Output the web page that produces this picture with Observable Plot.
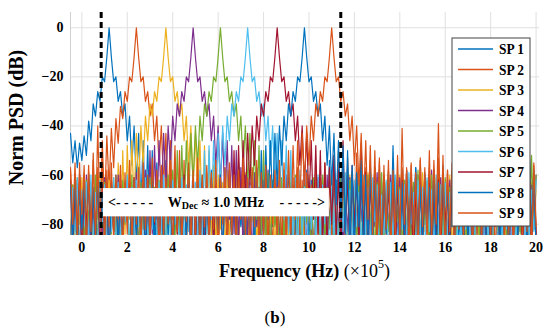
<!DOCTYPE html>
<html>
<head>
<meta charset="utf-8">
<script src="https://cdn.jsdelivr.net/npm/d3@7"></script>
<script src="https://cdn.jsdelivr.net/npm/@observablehq/plot@0.6"></script>
<style>
  html, body { margin: 0; padding: 0; background: #fff; }
  #wrap { width: 550px; }
  #cap { text-align: center; font-family: "Liberation Serif", serif; font-size: 17px; line-height: 20px; margin-top: 18px; color: #000; }
</style>
</head>
<body>
<div id="wrap"><div id="chart"></div><div id="cap">(<b>b</b>)</div></div>
<script>
// ---- data (frequency axis in units of 10^5 Hz, PSD in dB) ----
const freqStart = -0.5;
const freqStep = 0.1;
const seriesNames = ["SP 1","SP 2","SP 3","SP 4","SP 5","SP 6","SP 7","SP 8","SP 9"];
const seriesColors = ["#0072BD","#D95319","#EDB120","#7E2F8E","#77AC30","#4DBEEE","#A2142F","#0072BD","#D95319"];
const xTicks = [0,2,4,6,8,10,12,14,16,18,20];
const yTicks = [0,-20,-40,-60,-80];
const bandEdges = [0.85, 11.4];
const bandBox = [{x1: 0.95, x2: 10.9, y1: -65.5, y2: -77}];

const sp1 = [
-43,-55,-46,-57,-47,-54,-44,-52,-38,-46,
-31,-36,-26,-30,-20,-22,-12,0,-12,-22,
-20,-30,-26,-36,-31,-46,-36,-56,-40,-64,
-43,-72,-46,-78,-48,-84,-50,-88,-55,-80,
-58,-92,-54,-85,-61,-96,-57,-82,-63,-90,
-59,-87,-65,-79,-56,-94,-62,-83,-60,-99,
-64,-81,-58,-91,-66,-86,-61,-77,-57,-93,
-63,-84,-60,-97,-55,-80,-65,-89,-59,-83,
-62,-95,-57,-78,-64,-88,-60,-92,-66,-81,
-58,-86,-63,-98,-61,-79,-56,-90,-64,-84,
-60,-93,-65,-82,-58,-87,-62,-96,-57,-80,
-63,-89,-59,-83,-54,-91,-61,-78,-56,-94,
-60,-85,-57,-97,-62,-80,-58,-88,-64,-83,
-59,-92,-63,-79,-57,-86,-61,-95,-66,-82,
-60,-90,-57,-84,-62,-78,-58,-93,-63,-87,
-61,-81,-57,-96,-64,-85,-59,-79,-65,-91,
-58,-88,-62,-83,-56,-94,-63,-80,-60,-89,
-64,-86,-59,-92,-61,-78,-57,-97,-65,-84,
-60,-82,-63,-90,-58,-87,-62,-79,-59,-95,
-61,-85,-57,-93,-64,-81,-56,-88,-60,-83,
-54,-90,-52,-80,-59,-86];
const sp2 = [
-57,-82,-60,-91,-55,-86,-62,-78,-56,-88,
-51,-83,-40,-79,-46,-73,-44,-65,-41,-57,
-37,-47,-32,-37,-26,-30,-20,-22,-12,0,
-12,-22,-20,-30,-26,-36,-31,-46,-36,-56,
-40,-64,-43,-72,-46,-78,-48,-84,-50,-88,
-54,-93,-58,-80,-61,-87,-56,-95,-63,-81,
-59,-89,-65,-84,-57,-97,-62,-79,-60,-92,
-66,-85,-58,-90,-63,-77,-56,-94,-61,-86,
-64,-80,-59,-96,-62,-83,-57,-88,-65,-91,
-60,-78,-63,-93,-58,-87,-66,-82,-61,-97,
-57,-84,-62,-90,-59,-79,-64,-95,-56,-86,
-61,-81,-55,-92,-58,-85,-52,-89,-50,-83,
-56,-94,-53,-80,-59,-87,-51,-84,-47,-90,
-57,-82,-54,-96,-60,-79,-55,-91,-62,-85,
-58,-88,-55,-81,-61,-93,-57,-84,-63,-80,
-56,-95,-60,-83,-54,-89,-62,-78,-57,-92,
-59,-86,-53,-91,-63,-80,-58,-97,-61,-84,
-62,-81,-56,-94,-60,-85,-57,-90,-64,-79,
-58,-92,-54,-83,-61,-88,-56,-80,-60,-96,
-57,-84,-52,-89,-59,-79,-55,-93,-50,-86,
-56,-82,-48,-90,-55,-84];
const sp3 = [
-85,-64,-93,-67,-80,-61,-96,-69,-83,-63,
-90,-66,-78,-60,-94,-68,-86,-62,-81,-65,
-90,-55,-88,-50,-84,-48,-78,-46,-72,-43,
-64,-40,-56,-36,-46,-31,-36,-26,-30,-20,
-22,-12,0,-12,-22,-20,-30,-26,-36,-31,
-46,-36,-56,-40,-64,-43,-72,-46,-78,-48,
-84,-50,-88,-56,-91,-60,-82,-63,-95,-58,
-87,-66,-80,-61,-93,-64,-85,-59,-98,-67,
-79,-62,-90,-65,-84,-60,-96,-68,-81,-63,
-92,-66,-86,-61,-78,-64,-94,-59,-88,-67,
-83,-62,-97,-65,-80,-60,-89,-68,-85,-63,
-91,-61,-84,-66,-79,-58,-95,-64,-87,-62,
-82,-67,-93,-60,-86,-65,-78,-62,-96,-64,
-88,-59,-81,-66,-94,-61,-85,-68,-79,-63,
-97,-62,-87,-65,-80,-60,-92,-67,-84,-61,
-89,-66,-78,-63,-95,-59,-83,-67,-91,-64,
-85,-61,-96,-65,-81,-62,-88,-60,-93,-66,
-80,-63,-90,-67,-86,-61,-97,-64,-82,-62,
-94,-65,-84,-60,-89,-66,-79,-63,-92,-61,
-86,-67,-95,-62,-81,-64,-90,-59,-83,-65,
-91,-60,-87,-63,-80,-66];
const sp4 = [
-88,-66,-79,-62,-95,-69,-84,-60,-91,-65,
-81,-67,-97,-63,-86,-61,-92,-68,-83,-64,
-90,-60,-85,-66,-78,-62,-96,-67,-87,-59,
-93,-64,-82,-58,-88,-50,-84,-48,-78,-46,
-72,-43,-64,-40,-56,-36,-46,-31,-36,-26,
-30,-20,-22,-12,0,-12,-22,-20,-30,-26,
-36,-31,-46,-36,-56,-40,-64,-43,-72,-46,
-78,-48,-84,-50,-88,-57,-92,-60,-85,-63,
-97,-59,-81,-65,-90,-62,-86,-58,-94,-66,
-80,-61,-89,-64,-96,-60,-83,-67,-91,-62,
-85,-65,-79,-59,-93,-63,-88,-66,-82,-61,
-95,-64,-87,-60,-80,-66,-92,-62,-84,-59,
-90,-67,-83,-61,-97,-64,-86,-60,-79,-65,
-93,-62,-88,-66,-81,-59,-95,-63,-85,-67,
-82,-60,-91,-64,-87,-61,-78,-66,-96,-62,
-84,-65,-94,-60,-89,-67,-80,-63,-92,-58,
-86,-64,-83,-61,-97,-66,-90,-62,-81,-65,
-93,-60,-85,-67,-79,-63,-95,-59,-88,-64,
-81,-66,-92,-62,-86,-65,-98,-61,-84,-67,
-90,-63,-80,-59,-94,-66,-87,-62,-83,-65,
-96,-61,-89,-64,-82,-60];
const sp5 = [
-90,-64,-83,-61,-95,-67,-86,-62,-79,-66,
-93,-60,-88,-65,-81,-63,-97,-68,-84,-61,
-87,-66,-92,-62,-80,-67,-94,-60,-85,-64,
-96,-63,-82,-68,-89,-61,-79,-65,-93,-62,
-86,-67,-91,-60,-84,-58,-88,-50,-84,-48,
-78,-46,-72,-43,-64,-40,-56,-36,-46,-31,
-36,-26,-30,-20,-22,-12,0,-12,-22,-20,
-30,-26,-36,-31,-46,-36,-56,-40,-64,-43,
-72,-46,-78,-48,-84,-50,-88,-59,-93,-62,
-81,-65,-96,-61,-87,-67,-80,-63,-92,-60,
-85,-66,-90,-62,-79,-64,-97,-61,-83,-68,
-94,-60,-86,-65,-82,-63,-91,-67,-88,-59,
-80,-64,-95,-62,-84,-66,-89,-61,-93,-65,
-87,-60,-81,-67,-96,-63,-85,-59,-90,-64,
-83,-66,-92,-61,-79,-65,-94,-62,-86,-68,
-91,-63,-84,-58,-88,-66,-80,-62,-95,-60,
-82,-67,-93,-64,-86,-61,-97,-65,-81,-62,
-89,-59,-85,-66,-92,-63,-80,-67,-94,-61,
-86,-65,-79,-62,-95,-60,-88,-66,-83,-64,
-93,-61,-87,-58,-81,-55,-90,-50,-84,-57,
-79,-46,-88,-52,-82,-60];
const sp6 = [
-92,-65,-84,-61,-97,-66,-81,-63,-89,-60,
-86,-67,-94,-62,-80,-64,-91,-68,-83,-61,
-95,-63,-87,-66,-79,-60,-93,-65,-85,-62,
-81,-68,-96,-61,-88,-64,-82,-67,-90,-63,
-84,-60,-97,-65,-86,-62,-80,-66,-93,-61,
-89,-64,-83,-67,-95,-63,-87,-58,-88,-50,
-84,-48,-78,-46,-72,-43,-64,-40,-56,-36,
-46,-31,-36,-26,-30,-20,-22,-12,0,-12,
-22,-20,-30,-26,-36,-31,-46,-36,-56,-40,
-64,-43,-72,-46,-78,-48,-84,-50,-88,-61,
-93,-58,-85,-65,-97,-62,-82,-66,-90,-60,
-87,-64,-80,-67,-94,-61,-86,-63,-91,-65,
-83,-59,-96,-66,-88,-62,-81,-67,-92,-60,
-85,-65,-90,-61,-79,-64,-95,-68,-84,-62,
-97,-63,-86,-60,-91,-66,-82,-64,-88,-59,
-80,-67,-93,-62,-87,-65,-96,-61,-83,-66,
-90,-60,-84,-64,-98,-63,-86,-67,-81,-62,
-94,-66,-88,-61,-82,-65,-91,-59,-85,-63,
-79,-64,-95,-67,-89,-60,-84,-66,-93,-62,
-87,-61,-82,-65,-96,-63,-90,-68,-80,-64,
-92,-60,-86,-66,-83,-62];
const sp7 = [
-62,-91,-65,-84,-60,-96,-66,-81,-63,-89,
-67,-86,-61,-93,-64,-80,-68,-95,-62,-83,
-65,-90,-60,-87,-66,-79,-63,-94,-61,-85,
-68,-82,-64,-97,-62,-88,-65,-80,-60,-92,
-66,-86,-63,-81,-67,-95,-61,-84,-64,-90,
-60,-83,-65,-96,-62,-87,-66,-79,-63,-93,
-67,-85,-61,-90,-64,-82,-60,-94,-65,-86,
-58,-88,-50,-84,-48,-78,-46,-72,-43,-64,
-40,-56,-36,-46,-31,-36,-26,-30,-20,-22,
-12,0,-12,-22,-20,-30,-26,-36,-31,-46,
-36,-56,-40,-64,-43,-72,-46,-78,-48,-84,
-50,-88,-55,-91,-57,-80,-52,-86,-58,-93,
-46,-83,-60,-95,-56,-81,-62,-89,-49,-85,
-59,-92,-63,-79,-57,-87,-64,-96,-61,-82,
-65,-88,-60,-93,-66,-80,-62,-90,-58,-84,
-63,-97,-67,-83,-61,-89,-65,-81,-60,-94,
-66,-85,-62,-91,-64,-79,-68,-95,-61,-87,
-63,-82,-59,-93,-66,-86,-62,-98,-65,-80,
-61,-90,-67,-84,-60,-96,-64,-81,-63,-88,
-66,-83,-62,-94,-65,-87,-60,-80,-64,-92,
-62,-85,-66,-90,-61,-84];
const sp8 = [
-64,-87,-61,-95,-66,-82,-63,-90,-60,-84,
-65,-93,-62,-80,-67,-88,-61,-96,-64,-83,
-60,-89,-66,-85,-63,-79,-65,-94,-62,-86,
-67,-81,-61,-92,-64,-87,-60,-97,-66,-83,
-63,-90,-65,-84,-61,-95,-67,-80,-62,-88,
-66,-86,-60,-93,-64,-82,-63,-96,-61,-85,
-65,-91,-62,-79,-67,-89,-60,-94,-64,-83,
-61,-87,-66,-92,-63,-81,-65,-97,-62,-86,
-60,-90,-57,-88,-50,-84,-48,-78,-46,-72,
-43,-64,-40,-56,-36,-46,-31,-36,-26,-30,
-20,-22,-12,0,-12,-22,-20,-30,-26,-36,
-31,-46,-36,-56,-40,-64,-43,-72,-46,-78,
-48,-84,-50,-88,-56,-92,-59,-81,-54,-95,
-60,-86,-57,-90,-62,-80,-58,-93,-61,-84,
-59,-88,-48,-82,-60,-95,-63,-85,-58,-91,
-62,-80,-57,-94,-64,-87,-60,-83,-65,-90,
-58,-96,-63,-81,-61,-89,-66,-85,-59,-92,
-64,-83,-60,-97,-62,-86,-57,-90,-65,-80,
-61,-94,-66,-84,-58,-88,-63,-79,-60,-93,
-65,-85,-59,-91,-62,-82,-56,-87,-52,-80,
-55,-89,-50,-84,-58,-92];
const sp9 = [
-58,-80,-55,-88,-60,-76,-56,-92,-59,-83,
-54,-86,-57,-79,-53,-90,-58,-81,-55,-87,
-60,-78,-56,-93,-59,-84,-54,-89,-61,-80,
-57,-91,-55,-82,-60,-87,-53,-79,-58,-94,
-56,-85,-61,-80,-54,-92,-59,-83,-57,-88,
-62,-79,-55,-90,-58,-84,-53,-95,-60,-81,
-56,-87,-59,-82,-54,-93,-61,-80,-57,-89,
-55,-84,-60,-91,-58,-78,-53,-86,-61,-92,
-57,-81,-54,-89,-59,-85,-56,-94,-60,-80,
-58,-87,-54,-92,-55,-88,-50,-84,-48,-78,
-46,-72,-43,-64,-40,-56,-36,-46,-31,-36,
-26,-30,-20,-22,-12,0,-12,-22,-20,-30,
-26,-36,-31,-46,-36,-56,-40,-64,-43,-72,
-46,-78,-48,-84,-50,-88,-53,-90,-56,-82,
-54,-93,-58,-85,-52,-89,-41,-80,-57,-91,
-55,-84,-59,-94,-53,-81,-57,-88,-50,-86,
-54,-80,-39,-87,-52,-92,-58,-83,-55,-95,
-59,-82,-53,-89,-57,-79,-54,-93,-60,-85,
-56,-90,-52,-81,-58,-87,-55,-96,-59,-80,
-53,-88,-57,-84,-51,-92,-55,-79,-48,-86,
-44,-83,-53,-90,-56,-81];

const spectra = [sp1, sp2, sp3, sp4, sp5, sp6, sp7, sp8, sp9];
const rows = spectra.flatMap((vals, k) => vals.map((v, i) => ({
  freq: Math.round((freqStart + i * freqStep) * 100) / 100,
  psd: v,
  series: seriesNames[k]
})));

const serif = '"Liberation Serif", "Times New Roman", serif';
const chart = Plot.plot({
  width: 550, height: 290,
  marginLeft: 70, marginRight: 11, marginTop: 12, marginBottom: 55,
  style: {fontFamily: serif, fontSize: "14px", fontWeight: "bold", background: "#fff", color: "#000", overflow: "visible"},
  x: {domain: [-0.5, 20.15]},
  y: {domain: [-84.6, 6.2]},
  color: {domain: seriesNames, range: seriesColors},
  marks: [
    Plot.gridX(xTicks, {stroke: "#e0e0e0", strokeOpacity: 1}),
    Plot.gridY(yTicks, {stroke: "#e0e0e0", strokeOpacity: 1}),
    Plot.ruleX([-0.5], {stroke: "#d0d0d0"}),
    Plot.lineY(rows, {x: "freq", y: "psd", z: "series", stroke: "series", strokeWidth: 1.2, clip: true}),
    Plot.rect(bandBox, {x1: "x1", x2: "x2", y1: "y1", y2: "y2", fill: "#fff"}),
    Plot.ruleX(bandEdges, {stroke: "#000", strokeWidth: 3, strokeDasharray: "6,4"}),
    Plot.axisX(xTicks, {tickSize: 0, tickPadding: 7, label: null}),
    Plot.axisY(yTicks, {tickSize: 0, tickPadding: 7, label: null})
  ]
});
document.getElementById("chart").appendChild(chart);

const svg = d3.select(chart);
const sx = chart.scale("x"), sy = chart.scale("y");

// annotation inside the decimation band
const bx1 = sx.apply(bandBox[0].x1), bx2 = sx.apply(bandBox[0].x2);
const by = sy.apply((bandBox[0].y1 + bandBox[0].y2) / 2);
const ann = svg.append("g").attr("font-family", serif).attr("font-weight", "bold").attr("font-size", 14).attr("fill", "#000");
ann.append("text").attr("x", bx1 + 5).attr("y", by).attr("text-anchor", "start").attr("dominant-baseline", "central").text("<- - - - -");
ann.append("text").attr("x", bx2 - 4).attr("y", by).attr("text-anchor", "end").attr("dominant-baseline", "central").text("- - - - ->");
const mid = ann.append("text").attr("x", (bx1 + bx2) / 2).attr("y", by).attr("text-anchor", "middle").attr("dominant-baseline", "central");
mid.append("tspan").text("W");
mid.append("tspan").attr("font-size", 10).attr("dy", 3).text("Dec");
mid.append("tspan").attr("dy", -3).text(" \u2248 1.0 MHz");

// axis titles
svg.append("text")
  .attr("transform", `translate(16,${(12 + 235) / 2 - 6}) rotate(-90)`)
  .attr("text-anchor", "middle").attr("dominant-baseline", "central")
  .attr("font-family", serif).attr("font-weight", "bold").attr("font-size", 20)
  .text("Norm PSD (dB)");
const xl = svg.append("text")
  .attr("x", (70 + 539) / 2).attr("y", 271)
  .attr("text-anchor", "middle").attr("dominant-baseline", "central")
  .attr("font-family", serif).attr("font-size", 18);
xl.append("tspan").attr("font-weight", "bold").text("Frequency (Hz) ");
xl.append("tspan").attr("font-weight", "normal").text("(\u00d710");
xl.append("tspan").attr("font-weight", "normal").attr("font-size", 12).attr("dy", -7).text("5");
xl.append("tspan").attr("font-weight", "normal").attr("dy", 7).text(")");

// legend
const lg = svg.append("g").attr("transform", "translate(452,38)");
lg.append("rect").attr("width", 78).attr("height", 188).attr("fill", "#fff").attr("stroke", "#444").attr("stroke-width", 1);
seriesNames.forEach((name, i) => {
  const yy = 11 + i * 20.5;
  lg.append("line").attr("x1", 6).attr("x2", 41).attr("y1", yy).attr("y2", yy).attr("stroke", seriesColors[i]).attr("stroke-width", 1.5);
  lg.append("text").attr("x", 47).attr("y", yy).attr("text-anchor", "start").attr("dominant-baseline", "central")
    .attr("font-family", serif).attr("font-weight", "bold").attr("font-size", 15)
    .attr("textLength", 25).attr("lengthAdjust", "spacingAndGlyphs").text(name);
});
</script>
</body>
</html>
